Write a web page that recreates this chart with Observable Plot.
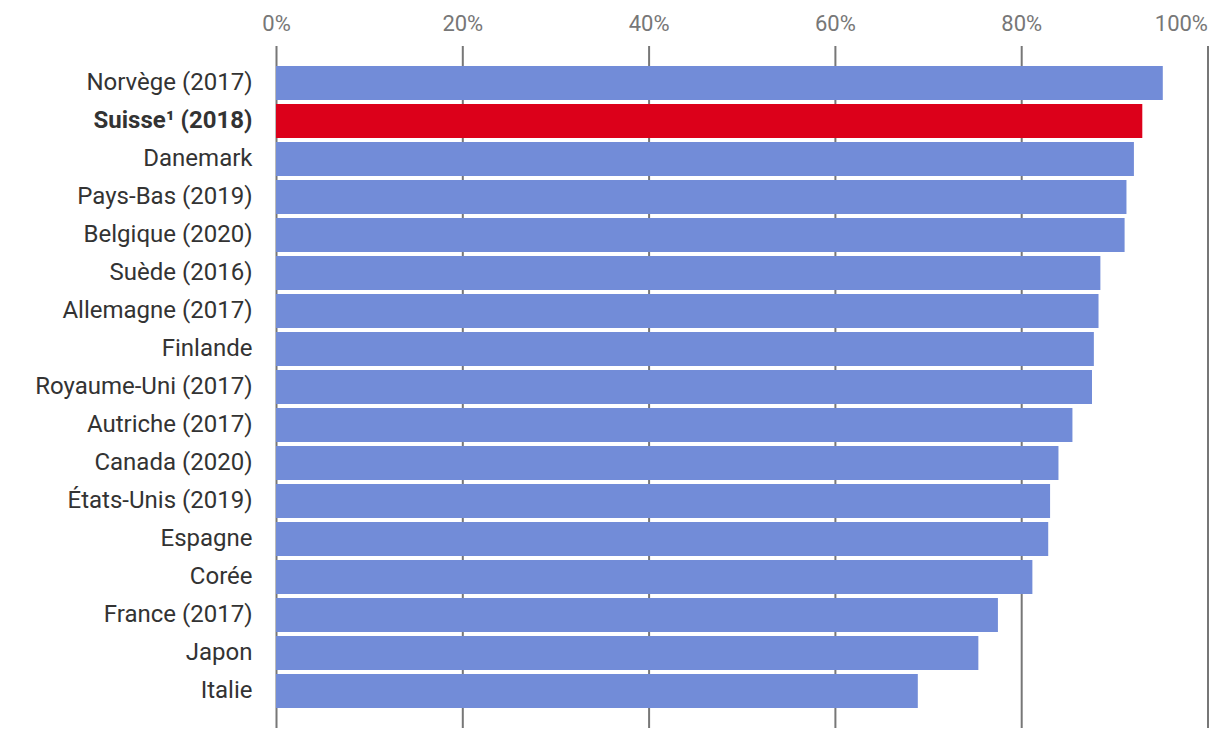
<!DOCTYPE html>
<html>
<head>
<meta charset="utf-8">
<script src="https://cdn.jsdelivr.net/npm/d3@7"></script>
<script src="https://cdn.jsdelivr.net/npm/@observablehq/plot@0.6"></script>
<style>
  html, body { margin: 0; padding: 0; background: #fff; }
  #chart svg { display: block; font-family: Roboto, sans-serif; }
</style>
</head>
<body>
<div id="chart"></div>
<script>
const countries = ["Norvège (2017)", "Suisse¹ (2018)", "Danemark", "Pays-Bas (2019)", "Belgique (2020)", "Suède (2016)", "Allemagne (2017)", "Finlande", "Royaume-Uni (2017)", "Autriche (2017)", "Canada (2020)", "États-Unis (2019)", "Espagne", "Corée", "France (2017)", "Japon", "Italie"];
const values = [95.2, 93.0, 92.1, 91.3, 91.1, 88.5, 88.3, 87.8, 87.6, 85.5, 84.0, 83.1, 82.9, 81.2, 77.5, 75.4, 68.9];
const highlight = "Suisse¹ (2018)";
const ticks = [0, 20, 40, 60, 80, 100];
const tickLabels = ["0%", "20%", "40%", "60%", "80%", "100%"];

const data = countries.map((c, i) => ({country: c, value: values[i]}));
const tickData = ticks.map((t, i) => ({t, label: tickLabels[i]}));

const chart = Plot.plot({
  width: 1220,
  height: 738,
  marginTop: 46,
  marginBottom: 10,
  marginLeft: 276,
  marginRight: 12.5,
  style: {fontFamily: "Roboto, sans-serif", background: "#fff"},
  x: {domain: [0, 100], axis: null},
  y: {domain: countries, axis: null, paddingInner: 0.105, paddingOuter: 0.526},
  marks: [
    Plot.ruleX(ticks, {x: d => d, stroke: "#777", strokeWidth: 2, strokeOpacity: 1}),
    Plot.barX(data, {
      x: "value", y: "country",
      fill: d => d.country === highlight ? "#dc001a" : "#728cd8"
    }),
    Plot.text(tickData.filter(d => d.t < 100), {
      x: "t", text: "label", frameAnchor: "top", dy: -23,
      fontSize: 22, fill: "#777", lineAnchor: "middle"
    }),
    Plot.text(tickData.filter(d => d.t === 100), {
      x: "t", text: "label", frameAnchor: "top", dy: -23, textAnchor: "end",
      fontSize: 22, fill: "#777", lineAnchor: "middle"
    }),
    Plot.text(data.filter(d => d.country !== highlight), {
      x: 0, y: "country", text: "country", textAnchor: "end", dx: -24, dy: -1,
      fontSize: 24, fill: "#333"
    }),
    Plot.text(data.filter(d => d.country === highlight), {
      x: 0, y: "country", text: "country", textAnchor: "end", dx: -24, dy: -1,
      fontSize: 24, fill: "#333", fontWeight: "bold"
    })
  ]
});
document.getElementById("chart").appendChild(chart);
</script>
</body>
</html>
